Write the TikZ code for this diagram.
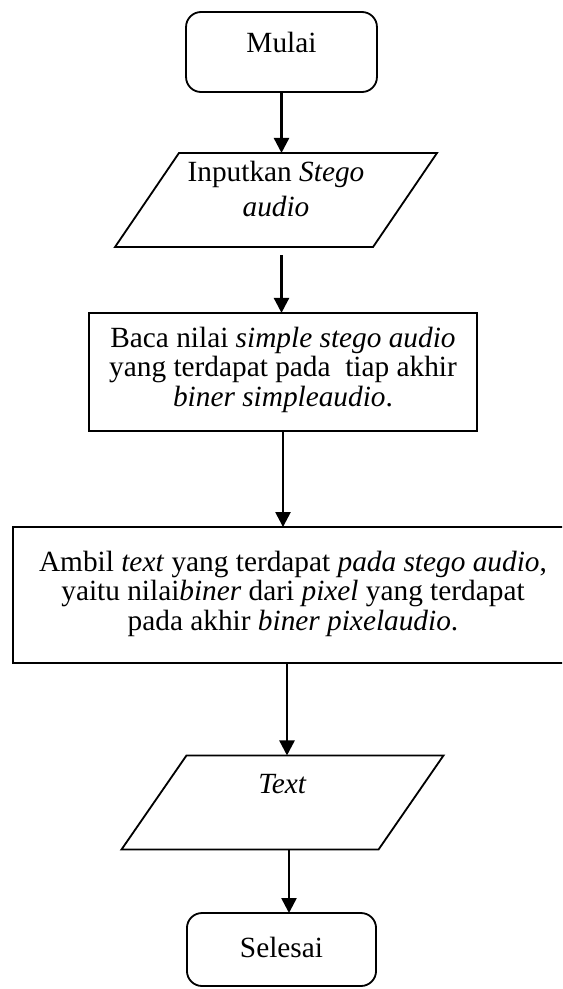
\documentclass[tikz,border=0pt]{standalone}
\usepackage{fontspec}
\setmainfont{Liberation Serif}
\usetikzlibrary{shapes.geometric, arrows.meta, positioning, calc}

\begin{document}
\begin{tikzpicture}[
        x=0.44pt, y=-0.44pt,
        terminal/.style={rectangle, draw, line width=0.8pt, rounded corners=6.6pt, minimum width=84pt, minimum height=35.2pt, inner sep=0pt, outer sep=0pt},
        io/.style={rectangle, minimum width=141.7pt, minimum height=41.4pt, inner sep=0pt, outer sep=0pt},
        process/.style={rectangle, draw, line width=0.8pt, inner sep=0pt, outer sep=0pt},
        border/.style={draw, line width=0.8pt},
        txt/.style={inner sep=0pt, align=center, font=\fontsize{12.9}{13}\selectfont},
        flow/.style={-{Triangle[length=6.6pt,width=6.6pt]}, line width=1.1pt}
    ]
        \useasboundingbox (0,0) rectangle (562,989);
        \clip (0,0) rectangle (562,989);

        % START
        \node[terminal] (mulai) at (281.5,52) {};
        \node[txt, below=8.8pt of mulai.north] (mulai_txt) {Mulai};

        % INPUT
        \node[io] (input) at (276,200) {};
        \draw[border] ($(input.north west)+(64,0)$) -- (input.north east) -- ($(input.south east)+(-64,0)$) -- (input.south west) -- cycle;
        \node[txt, font=\fontsize{12.9}{15}\selectfont, below=3.6pt of input.north] (input_txt) {Inputkan \textit{Stego}\\\textit{audio}};

        % PROSES
        \node[process, minimum width=170.7pt, minimum height=52pt] (baca) at (283,372) {};
        \node[txt, below=6pt of baca.north] (baca_txt) {Baca nilai \textit{simple stego audio}\\yang terdapat pada\ \ tiap akhir\\\textit{biner simpleaudio}.};

        \node[process, minimum width=246.4pt, minimum height=59.8pt] (ambil) at (293,595) {};
        \node[txt, below=10.3pt of ambil.north] (ambil_txt) {Ambil \textit{text} yang terdapat \textit{pada stego audio},\\yaitu nilai\textit{biner} dari \textit{pixel} yang terdapat\\pada akhir \textit{biner pixelaudio}.};

        % OUTPUT
        \node[io] (output) at (282.5,802.5) {};
        \draw[border] ($(output.north west)+(65,0)$) -- (output.north east) -- ($(output.south east)+(-65,0)$) -- (output.south west) -- cycle;
        \node[txt, below=8.3pt of output.north] (output_txt) {\textit{Text}};

        % END
        \node[terminal, minimum width=83.2pt, minimum height=32.1pt] (selesai) at (281.5,949.5) {};
        \node[txt, below=10.6pt of selesai.north] (selesai_txt) {Selesai};

        % FLOWS
        \coordinate (ambil_out) at ($(ambil.south)+(-6,0)$);
        \coordinate (output_out) at ($(output.south)+(6.5,0)$);

        \draw[flow] (mulai.south) -- (mulai.south |- input.north);
        \draw[flow, shorten <=3.5pt] (input.south -| mulai.south) -- (mulai.south |- baca.north);
        \draw[flow] (baca.south) -- (baca.south |- ambil.north);
        \draw[flow] (ambil_out) -- (ambil_out |- output.north);
        \draw[flow] (output_out) -- (output_out |- selesai.north);

    \end{tikzpicture}
\end{document}
